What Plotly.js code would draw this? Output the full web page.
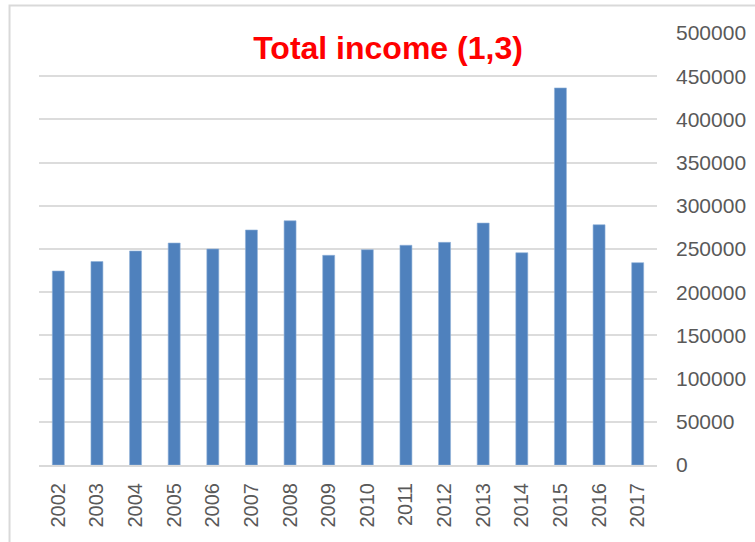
<!DOCTYPE html>
<html>
<head>
<meta charset="utf-8">
<script src="https://cdn.plot.ly/plotly-3.0.1.min.js"></script>
<style>
  html, body { margin: 0; padding: 0; background: #ffffff; }
  #chart { width: 755px; height: 542px; }
</style>
</head>
<body>
<div id="chart"></div>
<script>
const years = ["2002","2003","2004","2005","2006","2007","2008","2009","2010","2011","2012","2013","2014","2015","2016","2017"];
const totalIncome = [224500, 235500, 247700, 256900, 250000, 272000, 282700, 242700, 249200, 254300, 257700, 280000, 245700, 436400, 278100, 234200];
const yTicks = [0, 50000, 100000, 150000, 200000, 250000, 300000, 350000, 400000, 450000, 500000];
const chartTitle = "Total income (1,3)";

const trace = {
  type: "bar",
  x: years,
  y: totalIncome,
  marker: { color: "#4f81bd", line: { color: "#8fb0d8", width: 0.6 } },
  hoverinfo: "x+y"
};

const layout = {
  width: 755,
  height: 542,
  paper_bgcolor: "#ffffff",
  plot_bgcolor: "#ffffff",
  margin: { l: 38.5, r: 98, t: 32.5, b: 77, pad: 0 },
  showlegend: false,
  bargap: 0.69,
  font: { family: "Liberation Sans, Arial, sans-serif", color: "#595959" },
  title: {
    text: chartTitle,
    font: { family: "Liberation Sans, Arial, sans-serif", size: 32, color: "#ff0000", weight: "bold" },
    x: 388 / 755,
    xref: "container",
    xanchor: "center",
    y: 1 - 48 / 542,
    yref: "container",
    yanchor: "middle"
  },
  xaxis: {
    type: "category",
    tickangle: -90,
    tickfont: { size: 20, color: "#595959" },
    showgrid: false,
    showline: true,
    linecolor: "#d9d9d9",
    linewidth: 2,
    ticks: "",
    ticklabelstandoff: 8,
    fixedrange: true
  },
  yaxis: {
    side: "right",
    range: [0, 500000],
    tickvals: yTicks,
    ticktext: yTicks.map(v => String(v)),
    tickfont: { size: 21, color: "#595959" },
    showgrid: true,
    gridcolor: "#dcdcdc",
    gridwidth: 2,
    zeroline: false,
    showline: false,
    ticks: "",
    ticklabelstandoff: 18,
    fixedrange: true
  },
  shapes: [{
    type: "rect",
    xref: "paper", yref: "paper",
    x0: -0.0477, x1: 1.3, y0: -0.3, y1: 1.0636,
    line: { color: "#d9d9d9", width: 2 },
    fillcolor: "rgba(0,0,0,0)",
    layer: "below"
  }]
};

Plotly.newPlot("chart", [trace], layout, { displayModeBar: false, staticPlot: true });
</script>
</body>
</html>
